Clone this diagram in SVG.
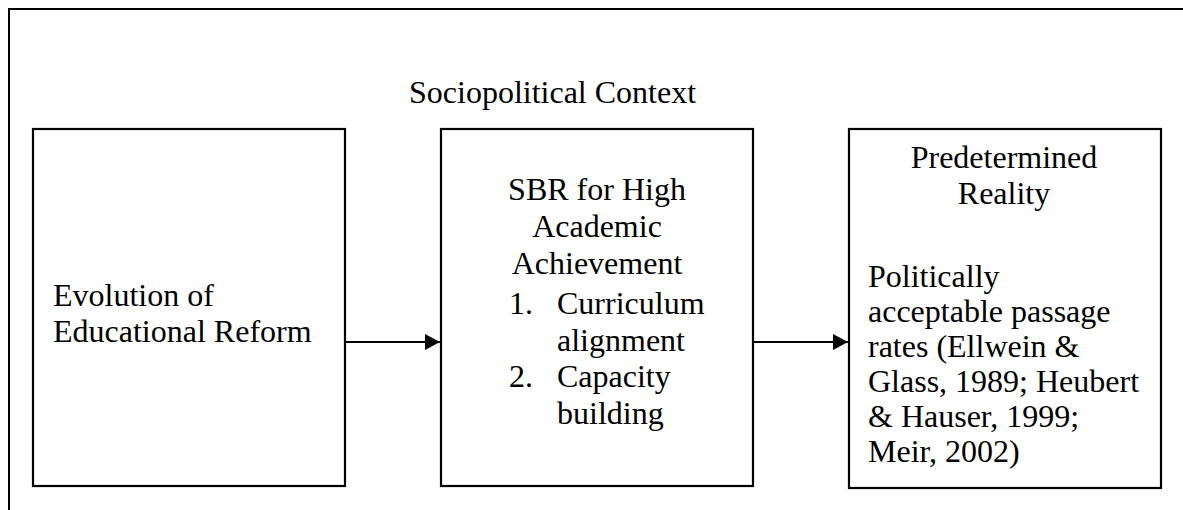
<svg xmlns="http://www.w3.org/2000/svg" width="1183" height="510" viewBox="0 0 1183 510">
  <style>
    .frame { fill: none; stroke: #000; stroke-width: 2; }
    .box { fill: #fff; stroke: #000; stroke-width: 2.2; }
    .t { font-family: "Liberation Serif", "Times New Roman", serif; font-size: 32px; fill: #000; }
    .c { text-anchor: middle; }
    .edge { stroke: #000; stroke-width: 1.8; fill: none; }
  </style>
  <defs>
    <marker id="arrow" markerUnits="userSpaceOnUse" markerWidth="16" markerHeight="16" refX="15" refY="8" orient="auto">
      <path d="M0,0 L15,8 L0,16 Z" fill="#000"/>
    </marker>
  </defs>

  <!-- outer context frame, open past the right and bottom edges -->
  <rect class="frame" x="9" y="9" width="1200" height="600"/>
  <g id="context-label">
    <text class="t" x="409" y="103">Sociopolitical Context</text>
  </g>

  <g id="node-evolution">
    <rect class="box" x="33" y="129" width="312" height="357"/>
    <text class="t" x="53" y="306">Evolution of</text>
    <text class="t" x="53" y="342">Educational Reform</text>
  </g>

  <g id="node-sbr">
    <rect class="box" x="441" y="129" width="312" height="357"/>
    <text class="t c" x="597" y="200">SBR for High</text>
    <text class="t c" x="597" y="237">Academic</text>
    <text class="t c" x="597" y="274">Achievement</text>
    <text class="t" x="509" y="314">1.</text>
    <text class="t" x="557" y="314">Curriculum</text>
    <text class="t" x="557" y="351">alignment</text>
    <text class="t" x="509" y="387">2.</text>
    <text class="t" x="557" y="387">Capacity</text>
    <text class="t" x="557" y="424">building</text>
  </g>

  <g id="node-reality">
    <rect class="box" x="849" y="129" width="312" height="359"/>
    <text class="t c" x="1004" y="168">Predetermined</text>
    <text class="t c" x="1004" y="204">Reality</text>
    <text class="t" x="868" y="287">Politically</text>
    <text class="t" x="868" y="322">acceptable passage</text>
    <text class="t" x="868" y="357">rates (Ellwein &amp;</text>
    <text class="t" x="868" y="392">Glass, 1989; Heubert</text>
    <text class="t" x="868" y="427">&amp; Hauser, 1999;</text>
    <text class="t" x="868" y="462">Meir, 2002)</text>
  </g>

  <g id="connectors">
    <line class="edge" x1="345" y1="342" x2="440" y2="342" marker-end="url(#arrow)"/>
    <line class="edge" x1="753" y1="342" x2="848" y2="342" marker-end="url(#arrow)"/>
  </g>
</svg>
